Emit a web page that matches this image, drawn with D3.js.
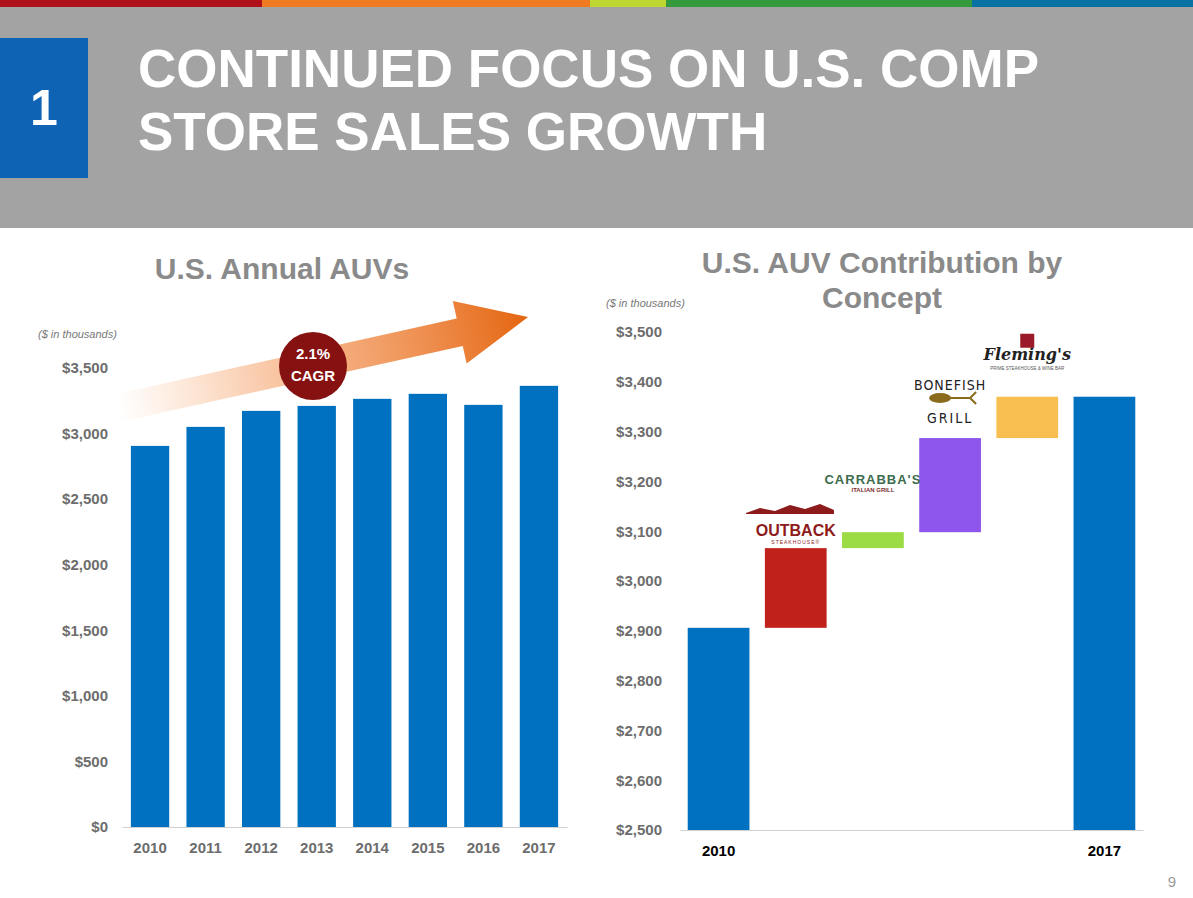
<!DOCTYPE html>
<html><head><meta charset="utf-8">
<script src="https://cdn.jsdelivr.net/npm/d3@7"></script>
<style>body{margin:0;background:#fff;font-family:Arial,"Liberation Sans",sans-serif}</style>
</head><body><svg id="c" width="1193" height="898"></svg>
<script>
// left chart data
const years = ['2010','2011','2012','2013','2014','2015','2016','2017'];
const auvs = [2906, 3051, 3173, 3211, 3265, 3303, 3219, 3364];
const leftTicks = [0, 500, 1000, 1500, 2000, 2500, 3000, 3500];

// waterfall data
const steps = ['2010', 'Outback', 'Carrabba', 'Bonefish', 'Flemings', '2017'];
const stepDelta = [2906, 160, 32, 189, 83, 3370];
const stepColor = ['#0070c0', '#c0211a', '#9bdc45', '#8e56ec', '#f8bf50', '#0070c0'];
const rightTicks = [2500, 2600, 2700, 2800, 2900, 3000, 3100, 3200, 3300, 3400, 3500];

const svg = d3.select('#c');
const fmt = d3.format(',');

// header
svg.append('rect').attr('x', 0).attr('y', 0).attr('width', 1193).attr('height', 228).attr('fill', '#a3a3a3');
const stripe = [[0, 262, '#b01019'], [262, 590, '#f07a22'], [590, 666, '#bdd630'], [666, 972, '#339a3d'], [972, 1193, '#0a71a3']];
stripe.forEach(s => svg.append('rect').attr('x', s[0]).attr('y', 0).attr('width', s[1] - s[0]).attr('height', 7).attr('fill', s[2]));
svg.append('rect').attr('x', 0).attr('y', 38).attr('width', 88).attr('height', 140).attr('fill', '#0f63b4');
svg.append('text').attr('x', 44).attr('y', 125).attr('text-anchor', 'middle').attr('fill', '#fff')
  .attr('font-size', 50).attr('font-weight', 'bold').text('1');
['CONTINUED FOCUS ON U.S. COMP', 'STORE SALES GROWTH'].forEach((t, i) =>
  svg.append('text').attr('x', 138).attr('y', 87 + i * 63).attr('fill', '#fff')
    .attr('font-size', 53).attr('font-weight', 'bold').text(t));

// ---- left chart
const x1 = d3.scaleBand().domain(years).range([122, 567]).paddingInner(0.31).paddingOuter(0.16);
const y1 = d3.scaleLinear().domain([0, 3500]).range([827, 368]);

svg.append('text').attr('x', 282).attr('y', 279).attr('text-anchor', 'middle').attr('fill', '#8a8a8a')
  .attr('font-size', 30).attr('font-weight', 'bold').text('U.S. Annual AUVs');
svg.append('text').attr('x', 38).attr('y', 338).attr('fill', '#777').attr('font-size', 11)
  .attr('font-style', 'italic').text('($ in thousands)');

// arrow
const defs = svg.append('defs');
const g = defs.append('linearGradient').attr('id', 'ag').attr('x1', '0').attr('x2', '1').attr('y1', '0').attr('y2', '0');
g.append('stop').attr('offset', '0').attr('stop-color', '#f7a062').attr('stop-opacity', 0);
g.append('stop').attr('offset', '0.5').attr('stop-color', '#f29050').attr('stop-opacity', 0.7);
g.append('stop').attr('offset', '1').attr('stop-color', '#e4650f').attr('stop-opacity', 1);
svg.append('g').attr('transform', 'translate(118,408) rotate(-12.5)')
  .append('path').attr('d', 'M0,-14 L350,-14 L350,-32 L420,0 L350,32 L350,14 L0,14 Z').attr('fill', 'url(#ag)');

const ax1 = svg.append('g').attr('transform', 'translate(122,0)')
  .call(d3.axisLeft(y1).tickValues(leftTicks).tickSize(0).tickPadding(14).tickFormat(d => '$' + fmt(d)));
ax1.select('.domain').remove();
ax1.selectAll('text').attr('font-size', 15).attr('font-weight', 'bold').attr('fill', '#6d6d6d').attr('font-family', 'Arial');

svg.selectAll('.b1').data(auvs).join('rect').attr('class', 'b1')
  .attr('x', (d, i) => x1(years[i])).attr('width', x1.bandwidth())
  .attr('y', d => y1(d)).attr('height', d => y1(0) - y1(d)).attr('fill', '#0070c0');

const bx1 = svg.append('g').attr('transform', 'translate(0,827)').call(d3.axisBottom(x1).tickSize(0).tickPadding(15));
bx1.select('.domain').attr('stroke', '#d0d0d0');
bx1.selectAll('text').attr('font-size', 15).attr('font-weight', 'bold').attr('fill', '#6d6d6d').attr('font-family', 'Arial');

svg.append('circle').attr('cx', 313).attr('cy', 366).attr('r', 34).attr('fill', '#861111');
svg.append('text').attr('x', 313).attr('y', 359).attr('text-anchor', 'middle').attr('fill', '#fff')
  .attr('font-size', 15).attr('font-weight', 'bold').text('2.1%');
svg.append('text').attr('x', 313).attr('y', 381).attr('text-anchor', 'middle').attr('fill', '#fff')
  .attr('font-size', 15).attr('font-weight', 'bold').text('CAGR');

// ---- right chart
const x2 = d3.scaleBand().domain(steps).range([680, 1143]).paddingInner(0.2).paddingOuter(0.1);
const y2 = d3.scaleLinear().domain([2500, 3500]).range([830, 332]);

svg.append('text').attr('x', 882).attr('y', 273).attr('text-anchor', 'middle').attr('fill', '#8a8a8a')
  .attr('font-size', 30).attr('font-weight', 'bold').text('U.S. AUV Contribution by');
svg.append('text').attr('x', 882).attr('y', 308).attr('text-anchor', 'middle').attr('fill', '#8a8a8a')
  .attr('font-size', 30).attr('font-weight', 'bold').text('Concept');
svg.append('text').attr('x', 606).attr('y', 307).attr('fill', '#777').attr('font-size', 11)
  .attr('font-style', 'italic').text('($ in thousands)');

const ax2 = svg.append('g').attr('transform', 'translate(675,0)')
  .call(d3.axisLeft(y2).tickValues(rightTicks).tickSize(0).tickPadding(13).tickFormat(d => '$' + fmt(d)));
ax2.select('.domain').remove();
ax2.selectAll('text').attr('font-size', 15).attr('font-weight', 'bold').attr('fill', '#6d6d6d').attr('font-family', 'Arial');

let run = 0;
const wf = stepDelta.map((d, i) => {
  if (i === 0 || i === steps.length - 1) { run = d; return [2500, d]; }
  const r = [run, run + d]; run += d; return r;
});
svg.selectAll('.b2').data(wf).join('rect').attr('class', 'b2')
  .attr('x', (d, i) => x2(steps[i])).attr('width', x2.bandwidth())
  .attr('y', d => y2(d[1])).attr('height', d => y2(d[0]) - y2(d[1]))
  .attr('fill', (d, i) => stepColor[i]);

const bx2 = svg.append('g').attr('transform', 'translate(0,830)')
  .call(d3.axisBottom(x2).tickSize(0).tickPadding(15).tickFormat(d => (d === '2010' || d === '2017') ? d : ''));
bx2.select('.domain').attr('stroke', '#d0d0d0');
bx2.selectAll('text').attr('font-size', 15).attr('font-weight', 'bold').attr('fill', '#000').attr('font-family', 'Arial');

// brand marks (text stand-ins for logos)
function lbl(step, top, lines) {
  const cx = x2(step) + x2.bandwidth() / 2;
  lines.forEach(l => svg.append('text').attr('x', cx).attr('y', y2(top) - l.dy).attr('text-anchor', 'middle')
    .attr('fill', l.c).attr('font-size', l.s).attr('font-weight', l.w || 'bold')
    .attr('font-style', l.i ? 'italic' : null).attr('letter-spacing', l.ls || 0)
    .attr('font-family', l.f || 'Arial').text(l.t));
}
lbl('Outback', wf[1][1], [{ t: 'OUTBACK', s: 16, c: '#8e1b1b', dy: 12 }, { t: 'STEAKHOUSE®', s: 5, c: '#8e1b1b', w: 'normal', dy: 4, ls: 1 }]);
svg.append('path').attr('d', 'M746,513 L760,508 L775,511 L790,505 L805,509 L820,504 L834,510 L834,514 L746,514 Z').attr('fill', '#8e1b1b');
lbl('Carrabba', wf[2][1] + 28, [{ t: "CARRABBA'S", s: 13, c: '#3d6b4d', dy: 34, ls: 1 }, { t: 'ITALIAN GRILL', s: 6, c: '#7a2e2e', dy: 26 }]);
lbl('Bonefish', wf[3][1], [{ t: 'BONEFISH', s: 14, c: '#222', dy: 48, ls: 1, f: 'DejaVu Sans Condensed', w: 'normal' },
  { t: 'GRILL', s: 14, c: '#222', dy: 15, ls: 2, f: 'DejaVu Sans Condensed', w: 'normal' }]);
const bfx = x2('Bonefish') + x2.bandwidth() / 2;
svg.append('ellipse').attr('cx', bfx - 10).attr('cy', y2(wf[3][1]) - 40).attr('rx', 11).attr('ry', 5).attr('fill', '#8a6a1c');
svg.append('path').attr('d', `M${bfx},${y2(wf[3][1]) - 40} L${bfx + 20},${y2(wf[3][1]) - 40} M${bfx + 20},${y2(wf[3][1]) - 40} L${bfx + 26},${y2(wf[3][1]) - 46} M${bfx + 20},${y2(wf[3][1]) - 40} L${bfx + 26},${y2(wf[3][1]) - 34}`)
  .attr('stroke', '#8a6a1c').attr('stroke-width', 2).attr('fill', 'none');
lbl('Flemings', wf[4][1], [{ t: "Fleming's", s: 16, c: '#222', dy: 37, i: true, f: 'DejaVu Serif' }, { t: 'PRIME STEAKHOUSE & WINE BAR', s: 4.5, c: '#555', w: 'normal', dy: 27 }]);
const flx = x2('Flemings') + x2.bandwidth() / 2;
svg.append('rect').attr('x', flx - 7).attr('y', y2(wf[4][1]) - 63).attr('width', 14).attr('height', 14).attr('fill', '#9b1b2a');

svg.append('text').attr('x', 1176).attr('y', 887).attr('text-anchor', 'end').attr('fill', '#999').attr('font-size', 15).text('9');
</script></body></html>
